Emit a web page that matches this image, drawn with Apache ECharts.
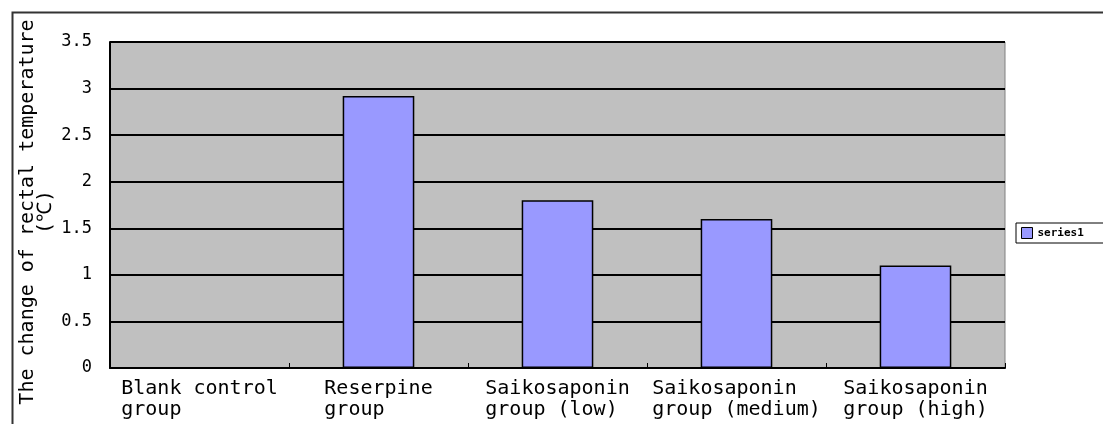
<!DOCTYPE html>
<html>
<head>
<meta charset="utf-8">
<script src="https://cdn.jsdelivr.net/npm/echarts@6/dist/echarts.min.js"></script>
<style>
html,body{margin:0;padding:0;background:#fff;}
#c{width:1103px;height:424px;}
</style>
</head>
<body>
<div id="c"></div>
<script>
const categories = [
  ['Blank control', 'group'],
  ['Reserpine', 'group'],
  ['Saikosaponin', 'group (low)'],
  ['Saikosaponin', 'group (medium)'],
  ['Saikosaponin', 'group (high)']
];
const seriesName = 'series1';
const values = [0, 2.92, 1.8, 1.6, 1.1];
const yTicks = { min: 0, max: 3.5, interval: 0.5 };
const yTitle = 'The change of rectal temperature\n(℃)';

const mono = '"DejaVu Sans Mono", "Liberation Mono", monospace';
const chart = echarts.init(document.getElementById('c'));
chart.setOption({
  animation: false,
  backgroundColor: '#ffffff',
  graphic: [{
    type: 'rect', left: 10, top: 10, z: -1,
    shape: { x: 0, y: 0, width: 1110, height: 430 },
    style: { fill: 'none', stroke: '#333', lineWidth: 2 }
  }],
  grid: {
    left: 110, top: 42, right: 98, bottom: 56,
    show: true, backgroundColor: '#c0c0c0', borderColor: '#808080', borderWidth: 1
  },
  legend: {
    left: 1016, top: 223,
    orient: 'vertical',
    itemWidth: 11, itemHeight: 11,
    itemGap: 4,
    padding: [4, 20, 4, 5],
    borderColor: '#000', borderWidth: 1,
    backgroundColor: '#fff',
    textStyle: { fontFamily: mono, fontSize: 11, color: '#000', fontWeight: 'bold' },
    data: [{ name: seriesName, icon: 'rect', itemStyle: { borderColor: '#000', borderWidth: 1 } }]
  },
  xAxis: {
    type: 'category',
    data: categories.map(c => c.join('\n')),
    axisLine: { lineStyle: { color: '#000', width: 2 } },
    axisTick: { show: true, inside: true, length: 5, alignWithLabel: false, lineStyle: { color: '#000' } },
    axisLabel: {
      interval: 0,
      margin: 10,
      formatter: function (v) {
        const parts = v.split('\n');
        return parts.map(p => '{a|' + p + '}').join('\n');
      },
      rich: { a: { fontFamily: mono, fontSize: 20, color: '#000', align: 'left', lineHeight: 21 } }
    },
    splitLine: { show: false }
  },
  yAxis: {
    type: 'value',
    min: yTicks.min, max: yTicks.max, interval: yTicks.interval,
    name: yTitle,
    nameLocation: 'middle',
    nameRotate: 90,
    nameGap: 55,
    nameMoveOverlap: false,
    nameTextStyle: { fontFamily: mono, fontSize: 20, color: '#000', lineHeight: 18, padding: [0, 14, 0, 0] },
    axisLine: { show: true, lineStyle: { color: '#000', width: 2 } },
    axisTick: { show: false },
    axisLabel: {
      margin: 18,
      fontFamily: mono, fontSize: 17, color: '#000',
      formatter: v => String(v)
    },
    splitLine: { show: true, lineStyle: { color: '#000', width: 2 } }
  },
  series: [{
    name: seriesName,
    type: 'bar',
    data: values,
    barWidth: '40%',
    itemStyle: { color: '#9999ff', borderColor: '#000', borderWidth: 1.5 }
  }]
});
</script>
</body>
</html>
